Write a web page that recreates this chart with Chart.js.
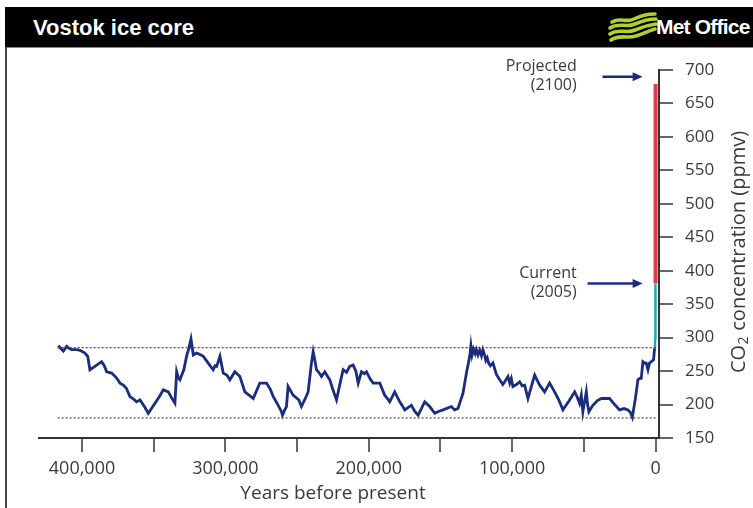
<!DOCTYPE html>
<html>
<head>
<meta charset="utf-8">
<script src="https://cdn.jsdelivr.net/npm/chart.js@4"></script>
<style>
  body { margin: 0; background: #fff; }
  .wrap { position: relative; width: 753px; height: 508px; overflow: hidden; }
  .header {
    position: absolute; left: 5px; top: 7px; width: 748px; height: 40px;
    background: #000; border-bottom: 1px solid #888;
  }
  .header h1 {
    position: absolute; left: 28px; top: 8px; margin: 0;
    font: bold 22px "Liberation Sans", Arial, sans-serif; color: #fff;
  }
  .logo { position: absolute; left: 601px; top: 3px; }
  .logo span {
    position: absolute; left: 50px; top: 5px; white-space: nowrap;
    font: bold 21px "Liberation Sans", Arial, sans-serif; color: #fff; letter-spacing: -0.8px;
  }
  .leftline { position: absolute; left: 5px; top: 47px; width: 2px; height: 461px; background: #444; }
  canvas { position: absolute; left: 0; top: 0; }
</style>
</head>
<body>
<div class="wrap">
  <canvas id="vostokChart" width="753" height="508"></canvas>
  <div class="header">
    <h1>Vostok ice core</h1>
    <div class="logo">
      <svg width="52" height="36" viewBox="0 0 52 36">
        <g fill="none" stroke="#b3d12e" stroke-width="3.6" stroke-linecap="round">
          <path d="M6 12 C14 7 20 13 28 9 S41 4 49 4"/>
          <path d="M4 18 C13 12 20 18 29 14 S42 9 50 9"/>
          <path d="M4 24 C13 18 20 24 29 20 S42 15 50 14"/>
          <path d="M5 30 C14 24 21 29 30 26 S42 21 49 19"/>
        </g>
      </svg>
      <span>Met Office</span>
    </div>
  </div>
  <div class="leftline"></div>
</div>

<script>
// Vostok CO2 record (years before present, ppmv)
const years = [416500, 414500, 413000, 410700, 409000, 407200, 404000, 401400, 398000, 396000,
  394500, 391000, 386300, 384500, 382800, 379300, 376000, 373500, 371200, 369000,
  366600, 364000, 361900, 359600, 356500, 353800, 349100, 346000, 343300, 339800,
  337500, 335200, 334000, 332800, 331700, 329000, 327100, 325500, 324000, 322400,
  320100, 318000, 315400, 312000, 308500, 307200, 306100, 303800, 301500, 299000,
  296900, 293400, 289900, 286400, 283500, 280600, 276000, 271300, 268500, 266700,
  264000, 262000, 261000, 260200, 258600, 257400, 256300, 252800, 248800, 247000,
  244500, 242300, 240000, 238800, 237600, 236500, 234500, 233000, 230700, 229000,
  227200, 225000, 222500, 220000, 217900, 215500, 213300, 210900, 209000, 207400,
  205100, 203000, 201600, 199000, 197000, 192300, 188900, 187000, 185400, 181900,
  178400, 176500, 174900, 170300, 168000, 165600, 161000, 157500, 154000, 151000,
  148200, 142400, 140100, 137800, 134300, 131900, 129600, 128800, 128000, 127000,
  125800, 125000, 123800, 122600, 121400, 120400, 119200,
  118400, 117400, 116400, 115200, 113400, 111000, 108700, 106500, 105200, 102900,
  101700, 100600, 99500, 97000, 94800, 93000, 91300, 89000, 86500, 84300,
  82500, 80800, 77400, 75500, 73900, 70400, 67500, 64600, 60500, 56400,
  54600, 53000, 51800, 50700, 48300, 47400, 46500, 44000, 40500, 37800,
  32100, 28500, 25100, 22000, 19300, 17500, 16200, 14000, 12300, 11000,
  10000, 8800, 7600, 6500, 5300, 4200, 3000, 1400, 700];
const co2 = [288, 283, 280, 287, 284, 282, 282, 281, 277, 272,
  252, 257, 264, 258, 249, 247, 240, 232, 229, 224,
  212, 208, 204, 207, 197, 187, 202, 212, 222, 219,
  210, 202, 249, 240, 237, 252, 272, 284, 298, 274,
  277, 275, 272, 262, 252, 258, 257, 272, 247, 244,
  237, 249, 242, 219, 214, 209, 232, 232, 222, 212,
  202, 194, 190, 184, 192, 197, 227, 214, 207, 197,
  208, 219, 262, 279, 266, 252, 247, 242, 249, 243,
  237, 222, 207, 232, 252, 248, 257, 259, 250, 232,
  249, 246, 249, 238, 232, 232, 214, 209, 204, 219,
  204, 198, 192, 199, 190, 184, 204, 197, 187, 190,
  192, 197, 192, 194, 217, 247, 272, 288, 274, 283,
  276, 282, 274, 281, 273, 282, 274,
  266, 270, 262, 258, 262, 245, 237, 230, 234, 242,
  232, 239, 227, 230, 234, 228, 229, 209, 228, 244,
  236, 229, 219, 226, 232, 219, 207, 192, 205, 219,
  211, 202, 214, 189, 219, 200, 189, 198, 206, 209,
  209, 200, 192, 194, 192, 188, 181, 210, 237, 239,
  239, 264, 262, 262, 252, 262, 264, 267, 284];

// instrumental rise to 2005
const recentYears = [700, 400, 250, 150, 100, 50, 0];
const recentCo2 = [284, 288, 300, 312, 330, 350, 381];

// projection to 2100
const projYears = [0, 0];
const projCo2 = [381, 679];

// glacial / interglacial reference levels
const refLevels = [285, 180];
const refSpan = [417000, 0];

const xTicks = [0, 50000, 100000, 150000, 200000, 250000, 300000, 350000, 400000];
const xLabelled = [0, 100000, 200000, 300000, 400000];

const annoText = [['Projected', '(2100)'], ['Current', '(2005)']];
const annoValues = [690, 381];
const arrowStart = [37000, 47400];
const arrowEnd = 9000;
const annoTextEnd = 55000;

const lineColor = '#1c2c7c';
const tealColor = '#2aa3b3';
const redColor = '#e0394a';
const textColor = '#3a3a3a';

const toXY = (xs, ys) => xs.map((v, i) => ({ x: v, y: ys[i] }));

const refDatasets = refLevels.map(v => ({
  data: toXY(refSpan, [v, v]),
  borderColor: '#444',
  borderWidth: 1.2,
  borderDash: [2, 2],
  pointRadius: 0
}));

const extrasPlugin = {
  id: 'extras',
  afterDraw(chart) {
    const { ctx, chartArea, scales: { x, y } } = chart;
    ctx.save();
    // annotations with arrows
    annoValues.forEach((v, i) => {
      const py = y.getPixelForValue(v);
      const x0 = x.getPixelForValue(arrowStart[i]);
      const x1 = x.getPixelForValue(arrowEnd);
      ctx.strokeStyle = lineColor;
      ctx.fillStyle = lineColor;
      ctx.lineWidth = 2.5;
      ctx.beginPath();
      ctx.moveTo(x0, py);
      ctx.lineTo(x1 - 8, py);
      ctx.stroke();
      ctx.beginPath();
      ctx.moveTo(x1, py);
      ctx.lineTo(x1 - 10, py - 4.5);
      ctx.lineTo(x1 - 10, py + 4.5);
      ctx.closePath();
      ctx.fill();

      ctx.fillStyle = textColor;
      ctx.font = '16px "Open Sans"';
      ctx.textAlign = 'right';
      ctx.textBaseline = 'middle';
      const tx = x.getPixelForValue(annoTextEnd);
      ctx.fillText(annoText[i][0], tx, py - 10.5);
      ctx.fillText(annoText[i][1], tx, py + 8.5);
    });

    // x axis title
    ctx.fillStyle = textColor;
    ctx.font = '19px "Open Sans"';
    ctx.textAlign = 'center';
    ctx.textBaseline = 'middle';
    ctx.fillText('Years before present', (chartArea.left + chartArea.right) / 2 - 16, 494);

    // y axis title with subscript
    ctx.translate(739, (chartArea.top + chartArea.bottom) / 2 - 2);
    ctx.rotate(-Math.PI / 2);
    ctx.textAlign = 'left';
    ctx.textBaseline = 'middle';
    const big = '20px "Open Sans"', small = '14px "Open Sans"';
    ctx.font = big;
    const w1 = ctx.measureText('CO').width;
    const w3 = ctx.measureText(' concentration (ppmv)').width;
    ctx.font = small;
    const w2 = ctx.measureText('2').width + 1;
    let sx = -(w1 + w2 + w3) / 2;
    ctx.font = big;
    ctx.fillText('CO', sx, 0);
    ctx.font = small;
    ctx.fillText('2', sx + w1 + 0.5, 5);
    ctx.font = big;
    ctx.fillText(' concentration (ppmv)', sx + w1 + w2, 0);
    ctx.restore();
  }
};

new Chart(document.getElementById('vostokChart'), {
  type: 'line',
  data: {
    datasets: [
      ...refDatasets,
      {
        data: toXY(years, co2),
        borderColor: lineColor,
        borderWidth: 2.8,
        pointRadius: 0,
        tension: 0
      },
      {
        data: toXY(recentYears, recentCo2),
        borderColor: tealColor,
        borderWidth: 2.5,
        pointRadius: 0
      },
      {
        data: toXY(projYears, projCo2),
        borderColor: redColor,
        borderWidth: 4,
        pointRadius: 0
      }
    ]
  },
  options: {
    responsive: false,
    animation: false,
    devicePixelRatio: 1,
    layout: { padding: { left: 39, top: 70, right: 0, bottom: 0 } },
    plugins: {
      legend: { display: false },
      tooltip: { enabled: false }
    },
    scales: {
      x: {
        type: 'linear',
        reverse: true,
        min: -2400,
        max: 430000,
        afterFit: s => { s.height = 70; },
        afterBuildTicks: s => { s.ticks = xTicks.map(v => ({ value: v })); },
        grid: { drawOnChartArea: false, color: '#666', lineWidth: 2, tickLength: 14 },
        border: { color: '#333', width: 2 },
        ticks: {
          padding: 6,
          color: textColor,
          font: { family: 'Open Sans', size: 18 },
          maxRotation: 0,
          autoSkip: false,
          callback: v => xLabelled.includes(v) ? v.toLocaleString('en-US') : ''
        }
      },
      y: {
        position: 'right',
        min: 150,
        max: 700,
        afterFit: s => { s.width = 94; },
        grid: { drawOnChartArea: false, color: '#666', lineWidth: 2, tickLength: 14 },
        border: { color: '#333', width: 2 },
        ticks: {
          stepSize: 50,
          padding: 12,
          color: textColor,
          font: { family: 'Open Sans', size: 17 }
        }
      }
    }
  },
  plugins: [extrasPlugin]
});
</script>
</body>
</html>
